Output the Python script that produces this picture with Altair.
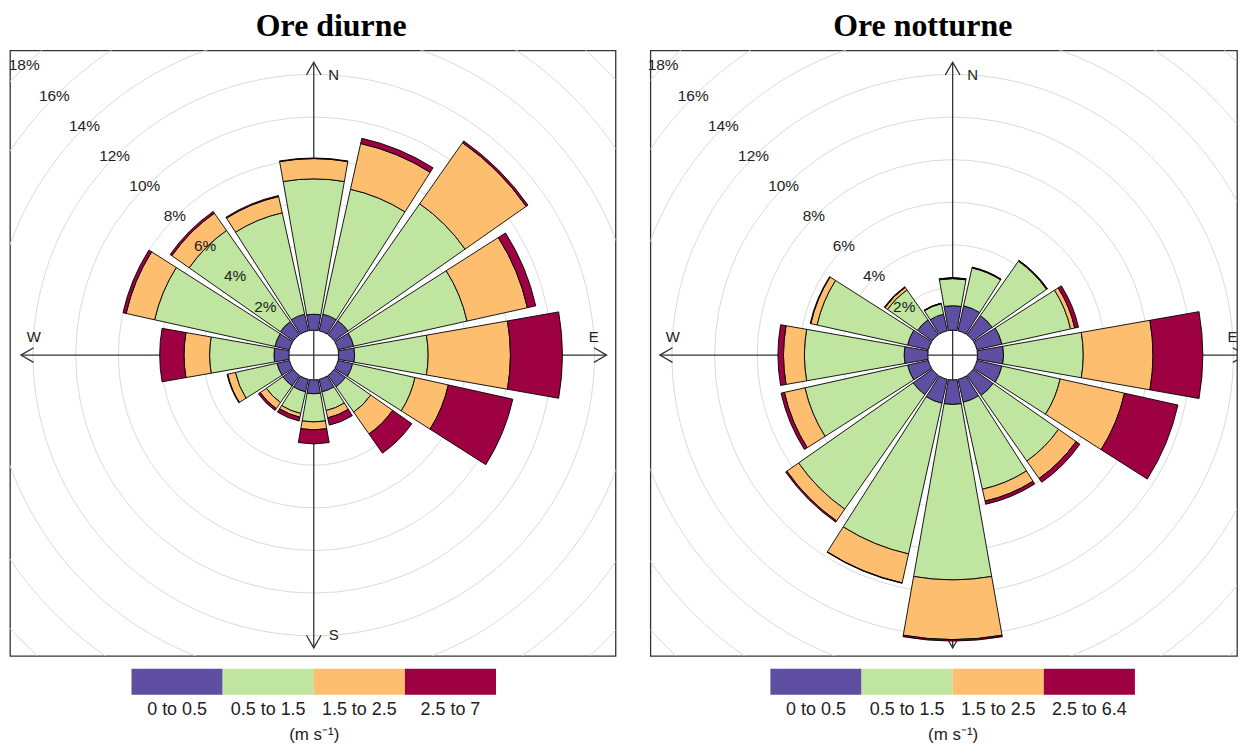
import altair as alt
import numpy as np
import pandas as pd

# ---------------- data ----------------
DIRS = [0, 22.5, 45, 67.5, 90, 112.5, 135, 157.5, 180, 202.5, 225, 247.5, 270, 292.5, 315, 337.5]

BANDS_DAY = ["0 to 0.5", "0.5 to 1.5", "1.5 to 2.5", "2.5 to 7"]
BANDS_NIGHT = ["0 to 0.5", "0.5 to 1.5", "1.5 to 2.5", "2.5 to 6.4"]
COLORS = ["#5E4FA2", "#BFE5A0", "#FDBF6F", "#9E0142"]

# frequency (%) of each speed band per direction  -- "Ore diurne"
day_b1 = [0.75, 0.8, 0.8, 0.75, 0.75, 0.7, 0.65, 0.6, 0.65, 0.6, 0.6, 0.6, 0.7, 0.7, 0.75, 0.8]
day_b2 = [6.35, 6.0, 6.7, 5.45, 3.45, 3.0, 1.45, 0.9, 1.32, 1.04, 0.95, 2.0, 3.02, 5.78, 5.22, 4.87]
day_b3 = [0.95, 2.2, 3.5, 2.9, 3.86, 1.6, 1.25, 0.35, 0.37, 0.18, 0.35, 0.37, 1.2, 1.37, 0.99, 0.78]
day_b4 = [0.03, 0.25, 0.1, 0.4, 2.44, 3.1, 1.1, 0.35, 0.66, 0.18, 0.1, 0.03, 1.14, 0.15, 0.1, 0.05]

# "Ore notturne"
night_b1 = [1.15, 1.2, 1.1, 1.2, 1.22, 1.2, 1.15, 1.1, 1.15, 1.15, 1.1, 1.0, 1.11, 1.0, 0.85, 0.8]
night_b2 = [1.27, 1.82, 3.11, 3.3, 3.74, 2.8, 3.75, 4.18, 8.23, 7.24, 6.56, 4.93, 4.68, 4.35, 1.72, 0.5]
night_b3 = [0.03, 0.02, 0.03, 0.2, 3.27, 3.09, 1.0, 0.57, 2.8, 1.39, 0.67, 0.99, 0.98, 0.3, 0.14, 0.02]
night_b4 = [0.02, 0.02, 0.02, 0.18, 2.34, 2.57, 0.22, 0.15, 0.07, 0.02, 0.07, 0.16, 0.26, 0.03, 0.04, 0.01]

GRID_PCTS = [2, 4, 6, 8, 10, 12, 14, 16, 18, 20]
LABEL_PCTS = [2, 4, 6, 8, 10, 12, 14, 16, 18]
COMPASS = ["N", "E", "S", "W"]
COMPASS_DEG = [0, 90, 180, 270]

# ---------------- geometry / style ----------------
HOLE_PX = 25.0
PX_PER_PCT = 21.4
R_MAX = 20
SECTOR_HALF = 10.0
ARROW_LEN = 294.0
LETTER_ALONG = 281.0
LETTER_SIDE_NS = 20.0
LETTER_SIDE_EW = 18.0
LABEL_DIR = 315.0
PANEL_H = 608
CENTER_Y = 306
FONT = "Liberation Sans"


def rose(title, bands, cols, width, cx, cy, title_dx):
    xs = alt.Scale(domain=[-cx, width - cx], range=[0, width], nice=False, zero=False)
    ys = alt.Scale(domain=[-(PANEL_H - cy), cy], range=[PANEL_H, 0], nice=False, zero=False)
    rs = alt.Scale(type="linear", domain=[0, R_MAX],
                   range=[HOLE_PX, HOLE_PX + PX_PER_PCT * R_MAX], zero=False, nice=False)
    ts = alt.Scale(type="linear", domain=[0, 360], range=[0, 2 * np.pi], zero=False, nice=False)

    cx_enc = alt.X(datum=0, type="quantitative", scale=xs, axis=None)
    cy_enc = alt.Y(datum=0, type="quantitative", scale=ys, axis=None)

    # long table of stacked bands
    rows = []
    cum = np.cumsum(np.array(cols), axis=0)
    for j, d in enumerate(DIRS):
        lo = 0.0
        for i, b in enumerate(bands):
            hi = float(cum[i, j])
            rows.append({"dir": d, "band": b, "order": i, "r0": lo, "r1": hi})
            lo = hi
    df = pd.DataFrame(rows)

    grid_df = pd.DataFrame({"pct": GRID_PCTS, "a0": 0, "a1": 360})
    grid = alt.Chart(grid_df).mark_arc(
        filled=False, stroke="#dadada", strokeWidth=1, clip=True
    ).encode(
        x=cx_enc, y=cy_enc,
        theta=alt.Theta("a0:Q", scale=ts, stack=None), theta2="a1:Q",
        radius=alt.Radius("pct:Q", scale=rs, stack=None),
    )

    comp = pd.DataFrame({"name": COMPASS, "deg": COMPASS_DEG})
    rad = np.radians(comp["deg"])
    comp["x1"] = ARROW_LEN * np.sin(rad)
    comp["y1"] = ARROW_LEN * np.cos(rad)
    comp["x0"] = 0.0
    comp["y0"] = 0.0
    comp["lx"] = LETTER_ALONG * np.sin(rad) + LETTER_SIDE_NS * np.abs(np.cos(rad))
    comp["ly"] = LETTER_ALONG * np.cos(rad) + LETTER_SIDE_EW * np.abs(np.sin(rad))

    lines = alt.Chart(comp).mark_rule(color="#333", strokeWidth=1.3, clip=True).encode(
        x=alt.X("x0:Q", scale=xs, axis=None), x2="x1:Q",
        y=alt.Y("y0:Q", scale=ys, axis=None), y2="y1:Q",
    )
    heads = alt.Chart(comp).mark_point(
        shape="M-0.577,1L0,0L0.577,1", filled=False, size=645, color="#333",
        strokeWidth=1.3, opacity=1, clip=True
    ).encode(
        x=alt.X("x1:Q", scale=xs, axis=None),
        y=alt.Y("y1:Q", scale=ys, axis=None),
        angle=alt.Angle("deg:Q", scale=alt.Scale(domain=[0, 360], range=[0, 360])),
    )
    letters = alt.Chart(comp).mark_text(font=FONT, fontSize=15, color="#222", clip=True).encode(
        x=alt.X("lx:Q", scale=xs, axis=None),
        y=alt.Y("ly:Q", scale=ys, axis=None),
        text="name:N",
    )

    sectors = alt.Chart(df).transform_calculate(
        t0=f"datum.dir - {SECTOR_HALF}", t1=f"datum.dir + {SECTOR_HALF}"
    ).mark_arc(stroke="black", strokeWidth=0.9, clip=True).encode(
        x=cx_enc, y=cy_enc,
        theta=alt.Theta("t0:Q", scale=ts, stack=None), theta2="t1:Q",
        radius=alt.Radius("r1:Q", scale=rs, stack=None), radius2="r0:Q",
        color=alt.Color("band:N", scale=alt.Scale(domain=bands, range=COLORS), legend=None),
        order=alt.Order("order:Q"),
    )

    lab_df = pd.DataFrame({"pct": LABEL_PCTS, "ang": LABEL_DIR})
    lab_df["txt"] = [f"{p}%" for p in LABEL_PCTS]
    labels = alt.Chart(lab_df).mark_text(
        font=FONT, fontSize=15.5, color="#222", radiusOffset=1
    ).encode(
        x=cx_enc, y=cy_enc,
        theta=alt.Theta("ang:Q", scale=ts, stack=None),
        radius=alt.Radius("pct:Q", scale=rs, stack=None),
        text="txt:N",
    )

    chart = alt.layer(grid, lines, heads, letters, sectors, labels).properties(
        width=width, height=PANEL_H,
        title=alt.Title(title, font="Liberation Serif", fontSize=32, fontWeight="bold",
                        color="black", anchor="middle", dx=title_dx, offset=7),
        view=alt.ViewBackground(stroke="#333", strokeWidth=1.3),
    )

    leg_df = pd.DataFrame({"band": bands})
    legend = alt.Chart(leg_df).mark_rect().encode(
        x=alt.X("band:N", sort=bands,
                scale=alt.Scale(domain=bands, range=[cx - 183, cx + 183], paddingInner=0, paddingOuter=0),
                axis=alt.Axis(title="(m s⁻¹)", orient="bottom", domain=False, ticks=False, tickSize=0,
                              labelAngle=0, labelFont=FONT, labelFontSize=18, labelColor="#222",
                              labelPadding=6, titleFont=FONT, titleFontSize=17, titleFontWeight="normal",
                              titleColor="#222", titlePadding=8, grid=False)),
        color=alt.Color("band:N", scale=alt.Scale(domain=bands, range=COLORS), legend=None),
    ).properties(width=width, height=26)

    return alt.vconcat(chart, legend, spacing=12).resolve_scale(color="independent", x="independent", y="independent")


left = rose("Ore diurne", BANDS_DAY, [day_b1, day_b2, day_b3, day_b4], 608, 305, CENTER_Y, 18.5)
right = rose("Ore notturne", BANDS_NIGHT, [night_b1, night_b2, night_b3, night_b4], 589, 303.5, CENTER_Y, -21)

chart = alt.hconcat(left, right, spacing=30).resolve_scale(
    color="independent", x="independent", y="independent", theta="independent", radius="independent"
).properties(padding=0).configure_view(strokeWidth=0)

chart.save("out.html", embed_options={"renderer": "svg", "actions": False})
